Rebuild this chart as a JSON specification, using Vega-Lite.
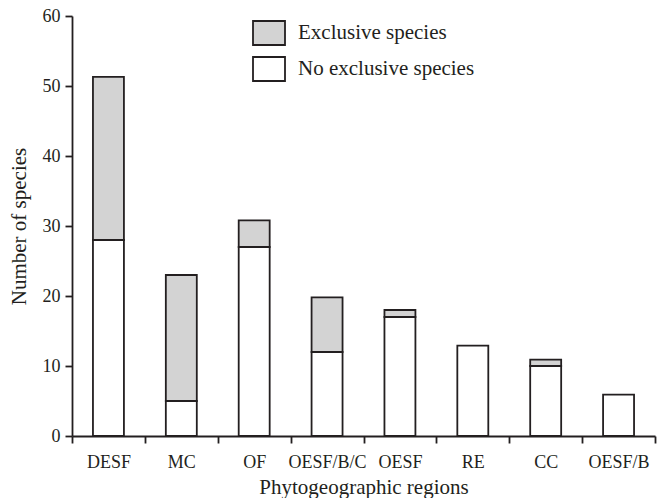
{
  "$schema": "https://vega.github.io/schema/vega-lite/v6.json",
  "width": 583,
  "height": 420,
  "autosize": {"type": "none"},
  "padding": {"left": 72, "top": 16, "right": 6, "bottom": 62},
  "background": "white",
  "data": {
    "values": [
      {"region": "DESF", "type": "No exclusive species", "count": 28},
      {"region": "DESF", "type": "Exclusive species", "count": 23.3},
      {"region": "MC", "type": "No exclusive species", "count": 5},
      {"region": "MC", "type": "Exclusive species", "count": 18},
      {"region": "OF", "type": "No exclusive species", "count": 27},
      {"region": "OF", "type": "Exclusive species", "count": 3.8},
      {"region": "OESF/B/C", "type": "No exclusive species", "count": 12},
      {"region": "OESF/B/C", "type": "Exclusive species", "count": 7.8},
      {"region": "OESF", "type": "No exclusive species", "count": 17},
      {"region": "OESF", "type": "Exclusive species", "count": 1},
      {"region": "RE", "type": "No exclusive species", "count": 12.9},
      {"region": "CC", "type": "No exclusive species", "count": 10},
      {"region": "CC", "type": "Exclusive species", "count": 0.9},
      {"region": "OESF/B", "type": "No exclusive species", "count": 5.9}
    ]
  },
  "mark": {"type": "bar", "stroke": "#231f20", "strokeWidth": 1.8, "width": {"band": 0.425}},
  "encoding": {
    "x": {
      "field": "region",
      "type": "nominal",
      "sort": ["DESF", "MC", "OF", "OESF/B/C", "OESF", "RE", "CC", "OESF/B"],
      "scale": {"paddingInner": 0, "paddingOuter": 0},
      "axis": {
        "title": "Phytogeographic regions",
        "labelAngle": 0,
        "tickBand": "extent",
        "tickColor": "#231f20",
        "tickWidth": 1.8,
        "tickSize": 7,
        "labelPadding": 10,
        "titlePadding": 5
      }
    },
    "y": {
      "field": "count",
      "type": "quantitative",
      "stack": "zero",
      "scale": {"domain": [0, 60], "nice": false},
      "axis": {
        "title": "Number of species",
        "values": [0, 10, 20, 30, 40, 50, 60],
        "tickColor": "#231f20",
        "tickWidth": 1.8,
        "tickSize": 7,
        "grid": false,
        "labelPadding": 5,
        "titlePadding": 13
      }
    },
    "color": {
      "field": "type",
      "type": "nominal",
      "scale": {"domain": ["Exclusive species", "No exclusive species"], "range": ["#d3d3d3", "#ffffff"]},
      "legend": {
        "title": null,
        "orient": "none",
        "legendX": 180,
        "legendY": 0,
        "symbolType": "M-1,-0.75H1V0.75H-1Z",
        "symbolSize": 1024,
        "symbolStrokeColor": "#231f20",
        "symbolStrokeWidth": 1.8,
        "labelOffset": 12,
        "labelLimit": 0,
        "rowPadding": 3,
        "labelFont": "Liberation Serif",
        "labelFontSize": 21,
        "labelColor": "#231f20",
        "padding": 0
      }
    },
    "order": {"field": "type", "sort": "descending"}
  },
  "config": {
    "view": {"stroke": null},
    "font": "Liberation Serif",
    "axis": {
      "domainColor": "#231f20",
      "domainWidth": 1.8,
      "labelFont": "Liberation Serif",
      "labelFontSize": 18,
      "labelColor": "#231f20",
      "titleFont": "Liberation Serif",
      "titleFontSize": 21,
      "titleFontWeight": "normal",
      "titleColor": "#231f20"
    }
  }
}
